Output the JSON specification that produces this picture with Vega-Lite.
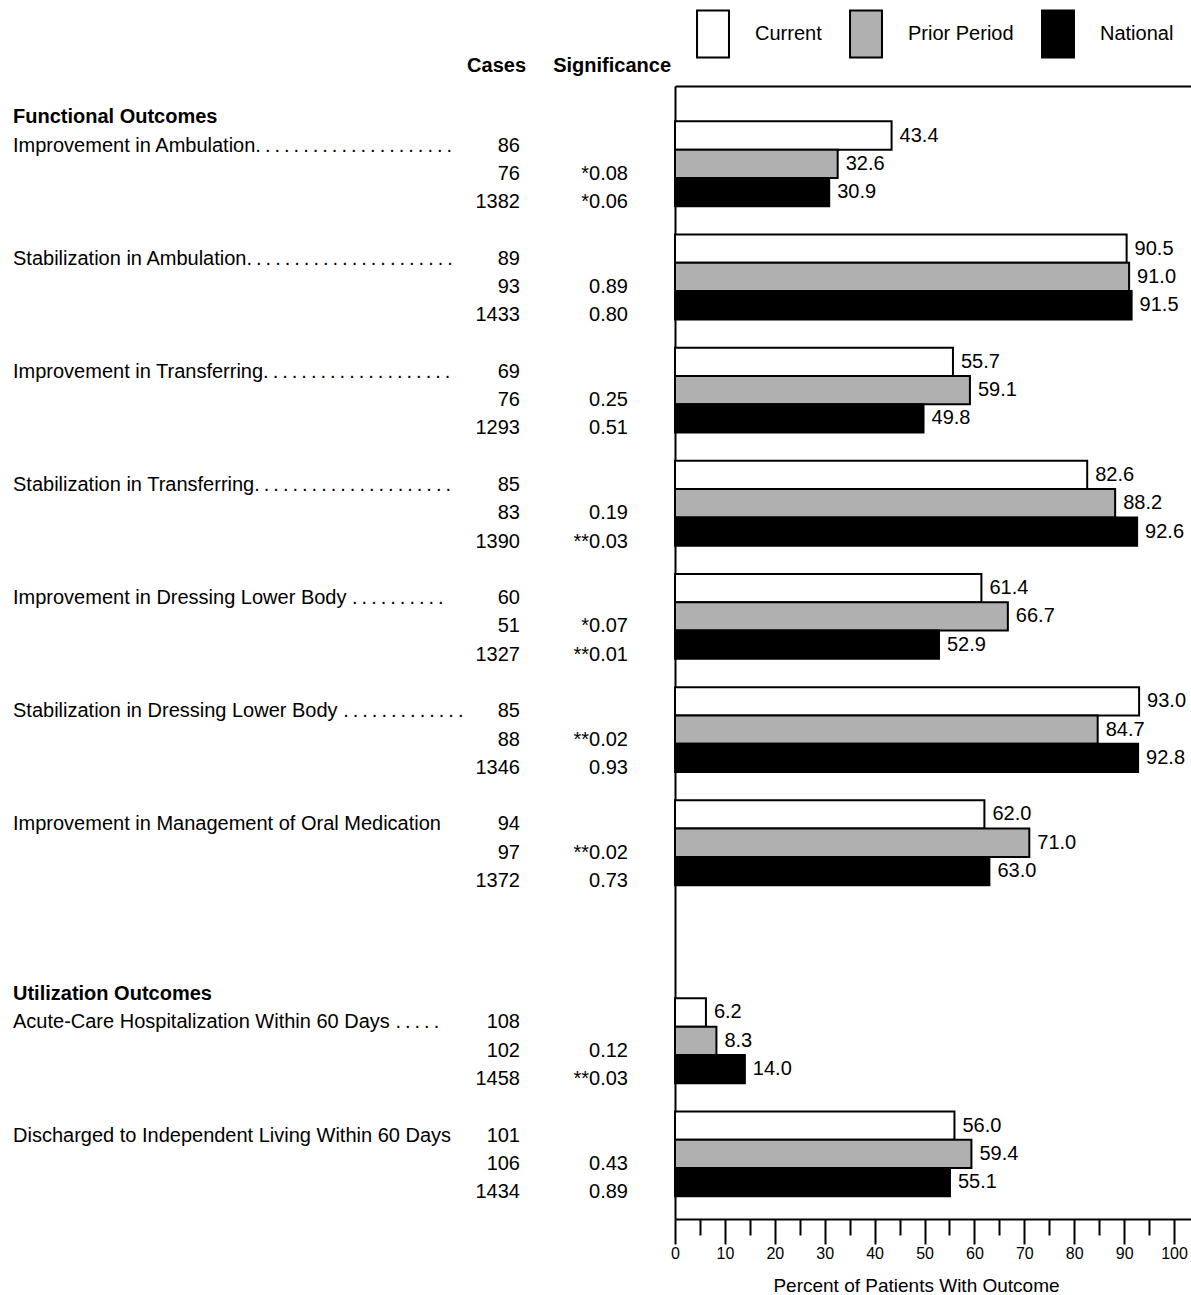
{
  "$schema": "https://vega.github.io/schema/vega-lite/v6.json",
  "padding": {"left": 13, "top": 9, "right": 0, "bottom": 0},
  "background": "white",
  "config": {
    "font": "Liberation Sans",
    "view": {"stroke": null},
    "axis": {"grid": false},
    "text": {"fontSize": 20, "color": "black", "font": "Liberation Sans"},
    "title": {"font": "Liberation Sans", "color": "black"}
  },
  "datasets": {
    "outcomes": [
      {"row": "Improvement in Ambulation | Current", "measure": "Improvement in Ambulation", "series": "Current", "value": 43.4, "cases": "86", "label": "Improvement in Ambulation.\u2009.\u2009.\u2009.\u2009.\u2009.\u2009.\u2009.\u2009.\u2009.\u2009.\u2009.\u2009.\u2009.\u2009.\u2009.\u2009.\u2009.\u2009.\u2009.\u2009."},
      {"row": "Improvement in Ambulation | Prior Period", "measure": "Improvement in Ambulation", "series": "Prior Period", "value": 32.6, "cases": "76", "sig": "*0.08"},
      {"row": "Improvement in Ambulation | National", "measure": "Improvement in Ambulation", "series": "National", "value": 30.9, "cases": "1382", "sig": "*0.06"},
      {"row": "Stabilization in Ambulation | Current", "measure": "Stabilization in Ambulation", "series": "Current", "value": 90.5, "cases": "89", "label": "Stabilization in Ambulation.\u2009.\u2009.\u2009.\u2009.\u2009.\u2009.\u2009.\u2009.\u2009.\u2009.\u2009.\u2009.\u2009.\u2009.\u2009.\u2009.\u2009.\u2009.\u2009.\u2009.\u2009."},
      {"row": "Stabilization in Ambulation | Prior Period", "measure": "Stabilization in Ambulation", "series": "Prior Period", "value": 91.0, "cases": "93", "sig": "0.89"},
      {"row": "Stabilization in Ambulation | National", "measure": "Stabilization in Ambulation", "series": "National", "value": 91.5, "cases": "1433", "sig": "0.80"},
      {"row": "Improvement in Transferring | Current", "measure": "Improvement in Transferring", "series": "Current", "value": 55.7, "cases": "69", "label": "Improvement in Transferring.\u2009.\u2009.\u2009.\u2009.\u2009.\u2009.\u2009.\u2009.\u2009.\u2009.\u2009.\u2009.\u2009.\u2009.\u2009.\u2009.\u2009.\u2009.\u2009."},
      {"row": "Improvement in Transferring | Prior Period", "measure": "Improvement in Transferring", "series": "Prior Period", "value": 59.1, "cases": "76", "sig": "0.25"},
      {"row": "Improvement in Transferring | National", "measure": "Improvement in Transferring", "series": "National", "value": 49.8, "cases": "1293", "sig": "0.51"},
      {"row": "Stabilization in Transferring | Current", "measure": "Stabilization in Transferring", "series": "Current", "value": 82.6, "cases": "85", "label": "Stabilization in Transferring.\u2009.\u2009.\u2009.\u2009.\u2009.\u2009.\u2009.\u2009.\u2009.\u2009.\u2009.\u2009.\u2009.\u2009.\u2009.\u2009.\u2009.\u2009.\u2009.\u2009."},
      {"row": "Stabilization in Transferring | Prior Period", "measure": "Stabilization in Transferring", "series": "Prior Period", "value": 88.2, "cases": "83", "sig": "0.19"},
      {"row": "Stabilization in Transferring | National", "measure": "Stabilization in Transferring", "series": "National", "value": 92.6, "cases": "1390", "sig": "**0.03"},
      {"row": "Improvement in Dressing Lower Body | Current", "measure": "Improvement in Dressing Lower Body", "series": "Current", "value": 61.4, "cases": "60", "label": "Improvement in Dressing Lower Body .\u2009.\u2009.\u2009.\u2009.\u2009.\u2009.\u2009.\u2009.\u2009."},
      {"row": "Improvement in Dressing Lower Body | Prior Period", "measure": "Improvement in Dressing Lower Body", "series": "Prior Period", "value": 66.7, "cases": "51", "sig": "*0.07"},
      {"row": "Improvement in Dressing Lower Body | National", "measure": "Improvement in Dressing Lower Body", "series": "National", "value": 52.9, "cases": "1327", "sig": "**0.01"},
      {"row": "Stabilization in Dressing Lower Body | Current", "measure": "Stabilization in Dressing Lower Body", "series": "Current", "value": 93.0, "cases": "85", "label": "Stabilization in Dressing Lower Body .\u2009.\u2009.\u2009.\u2009.\u2009.\u2009.\u2009.\u2009.\u2009.\u2009.\u2009.\u2009."},
      {"row": "Stabilization in Dressing Lower Body | Prior Period", "measure": "Stabilization in Dressing Lower Body", "series": "Prior Period", "value": 84.7, "cases": "88", "sig": "**0.02"},
      {"row": "Stabilization in Dressing Lower Body | National", "measure": "Stabilization in Dressing Lower Body", "series": "National", "value": 92.8, "cases": "1346", "sig": "0.93"},
      {"row": "Improvement in Management of Oral Medication | Current", "measure": "Improvement in Management of Oral Medication", "series": "Current", "value": 62.0, "cases": "94", "label": "Improvement in Management of Oral Medication"},
      {"row": "Improvement in Management of Oral Medication | Prior Period", "measure": "Improvement in Management of Oral Medication", "series": "Prior Period", "value": 71.0, "cases": "97", "sig": "**0.02"},
      {"row": "Improvement in Management of Oral Medication | National", "measure": "Improvement in Management of Oral Medication", "series": "National", "value": 63.0, "cases": "1372", "sig": "0.73"},
      {"row": "Acute-Care Hospitalization Within 60 Days | Current", "measure": "Acute-Care Hospitalization Within 60 Days", "series": "Current", "value": 6.2, "cases": "108", "label": "Acute-Care Hospitalization Within 60 Days .\u2009.\u2009.\u2009.\u2009."},
      {"row": "Acute-Care Hospitalization Within 60 Days | Prior Period", "measure": "Acute-Care Hospitalization Within 60 Days", "series": "Prior Period", "value": 8.3, "cases": "102", "sig": "0.12"},
      {"row": "Acute-Care Hospitalization Within 60 Days | National", "measure": "Acute-Care Hospitalization Within 60 Days", "series": "National", "value": 14.0, "cases": "1458", "sig": "**0.03"},
      {"row": "Discharged to Independent Living Within 60 Days | Current", "measure": "Discharged to Independent Living Within 60 Days", "series": "Current", "value": 56.0, "cases": "101", "label": "Discharged to Independent Living Within 60 Days"},
      {"row": "Discharged to Independent Living Within 60 Days | Prior Period", "measure": "Discharged to Independent Living Within 60 Days", "series": "Prior Period", "value": 59.4, "cases": "106", "sig": "0.43"},
      {"row": "Discharged to Independent Living Within 60 Days | National", "measure": "Discharged to Independent Living Within 60 Days", "series": "National", "value": 55.1, "cases": "1434", "sig": "0.89"}
    ],
    "headers": [
      {"row": "Functional Outcomes", "text": "Functional Outcomes"},
      {"row": "Utilization Outcomes", "text": "Utilization Outcomes"}
    ]
  },
  "hconcat": [
    {
      "width": 449, "height": 1133,
      "layer": [
        {
          "data": {"name": "outcomes"},
          "transform": [{"filter": "datum.label != null"}],
          "mark": {"type": "text", "align": "left", "baseline": "middle", "dy": 10, "fontSize": 20},
          "encoding": {
            "y": {"field": "row", "type": "nominal", "sort": null, "axis": null, "scale": {"type": "band", "paddingInner": 0, "paddingOuter": 0.525, "align": 0.238, "domain": ["Functional Outcomes", "Improvement in Ambulation | Current", "Improvement in Ambulation | Prior Period", "Improvement in Ambulation | National", "gap 1", "Stabilization in Ambulation | Current", "Stabilization in Ambulation | Prior Period", "Stabilization in Ambulation | National", "gap 2", "Improvement in Transferring | Current", "Improvement in Transferring | Prior Period", "Improvement in Transferring | National", "gap 3", "Stabilization in Transferring | Current", "Stabilization in Transferring | Prior Period", "Stabilization in Transferring | National", "gap 4", "Improvement in Dressing Lower Body | Current", "Improvement in Dressing Lower Body | Prior Period", "Improvement in Dressing Lower Body | National", "gap 5", "Stabilization in Dressing Lower Body | Current", "Stabilization in Dressing Lower Body | Prior Period", "Stabilization in Dressing Lower Body | National", "gap 6", "Improvement in Management of Oral Medication | Current", "Improvement in Management of Oral Medication | Prior Period", "Improvement in Management of Oral Medication | National", "gap 7", "gap 8", "gap 9", "Utilization Outcomes", "Acute-Care Hospitalization Within 60 Days | Current", "Acute-Care Hospitalization Within 60 Days | Prior Period", "Acute-Care Hospitalization Within 60 Days | National", "gap 10", "Discharged to Independent Living Within 60 Days | Current", "Discharged to Independent Living Within 60 Days | Prior Period", "Discharged to Independent Living Within 60 Days | National"]}},
            "x": {"value": 0},
            "text": {"field": "label", "type": "nominal"}
          }
        },
        {
          "data": {"name": "headers"},
          "mark": {"type": "text", "align": "left", "baseline": "middle", "dy": 10, "fontSize": 20, "fontWeight": "bold"},
          "encoding": {
            "y": {"field": "row", "type": "nominal", "sort": null, "axis": null, "scale": {"type": "band", "paddingInner": 0, "paddingOuter": 0.525, "align": 0.238, "domain": ["Functional Outcomes", "Improvement in Ambulation | Current", "Improvement in Ambulation | Prior Period", "Improvement in Ambulation | National", "gap 1", "Stabilization in Ambulation | Current", "Stabilization in Ambulation | Prior Period", "Stabilization in Ambulation | National", "gap 2", "Improvement in Transferring | Current", "Improvement in Transferring | Prior Period", "Improvement in Transferring | National", "gap 3", "Stabilization in Transferring | Current", "Stabilization in Transferring | Prior Period", "Stabilization in Transferring | National", "gap 4", "Improvement in Dressing Lower Body | Current", "Improvement in Dressing Lower Body | Prior Period", "Improvement in Dressing Lower Body | National", "gap 5", "Stabilization in Dressing Lower Body | Current", "Stabilization in Dressing Lower Body | Prior Period", "Stabilization in Dressing Lower Body | National", "gap 6", "Improvement in Management of Oral Medication | Current", "Improvement in Management of Oral Medication | Prior Period", "Improvement in Management of Oral Medication | National", "gap 7", "gap 8", "gap 9", "Utilization Outcomes", "Acute-Care Hospitalization Within 60 Days | Current", "Acute-Care Hospitalization Within 60 Days | Prior Period", "Acute-Care Hospitalization Within 60 Days | National", "gap 10", "Discharged to Independent Living Within 60 Days | Current", "Discharged to Independent Living Within 60 Days | Prior Period", "Discharged to Independent Living Within 60 Days | National"]}},
            "x": {"value": 0},
            "text": {"field": "text", "type": "nominal"}
          }
        }
      ]
    },
    {
      "width": 58, "height": 1133,
      "title": {"text": "Cases", "anchor": "end", "frame": "group", "dx": 6, "fontSize": 20, "fontWeight": "bold", "offset": 10},
      "data": {"name": "outcomes"},
      "mark": {"type": "text", "align": "right", "baseline": "middle", "dy": 10, "fontSize": 20},
      "encoding": {
        "y": {"field": "row", "type": "nominal", "sort": null, "axis": null, "scale": {"type": "band", "paddingInner": 0, "paddingOuter": 0.525, "align": 0.238, "domain": ["Functional Outcomes", "Improvement in Ambulation | Current", "Improvement in Ambulation | Prior Period", "Improvement in Ambulation | National", "gap 1", "Stabilization in Ambulation | Current", "Stabilization in Ambulation | Prior Period", "Stabilization in Ambulation | National", "gap 2", "Improvement in Transferring | Current", "Improvement in Transferring | Prior Period", "Improvement in Transferring | National", "gap 3", "Stabilization in Transferring | Current", "Stabilization in Transferring | Prior Period", "Stabilization in Transferring | National", "gap 4", "Improvement in Dressing Lower Body | Current", "Improvement in Dressing Lower Body | Prior Period", "Improvement in Dressing Lower Body | National", "gap 5", "Stabilization in Dressing Lower Body | Current", "Stabilization in Dressing Lower Body | Prior Period", "Stabilization in Dressing Lower Body | National", "gap 6", "Improvement in Management of Oral Medication | Current", "Improvement in Management of Oral Medication | Prior Period", "Improvement in Management of Oral Medication | National", "gap 7", "gap 8", "gap 9", "Utilization Outcomes", "Acute-Care Hospitalization Within 60 Days | Current", "Acute-Care Hospitalization Within 60 Days | Prior Period", "Acute-Care Hospitalization Within 60 Days | National", "gap 10", "Discharged to Independent Living Within 60 Days | Current", "Discharged to Independent Living Within 60 Days | Prior Period", "Discharged to Independent Living Within 60 Days | National"]}},
        "x": {"value": "width"},
        "text": {"field": "cases", "type": "nominal"}
      }
    },
    {
      "width": 155, "height": 1133,
      "title": {"text": "Significance", "anchor": "end", "frame": "group", "dx": -4, "fontSize": 20, "fontWeight": "bold", "offset": 10},
      "data": {"name": "outcomes"},
      "transform": [{"filter": "datum.sig != null"}],
      "mark": {"type": "text", "align": "right", "baseline": "middle", "dy": 10, "dx": -47, "fontSize": 20},
      "encoding": {
        "y": {"field": "row", "type": "nominal", "sort": null, "axis": null, "scale": {"type": "band", "paddingInner": 0, "paddingOuter": 0.525, "align": 0.238, "domain": ["Functional Outcomes", "Improvement in Ambulation | Current", "Improvement in Ambulation | Prior Period", "Improvement in Ambulation | National", "gap 1", "Stabilization in Ambulation | Current", "Stabilization in Ambulation | Prior Period", "Stabilization in Ambulation | National", "gap 2", "Improvement in Transferring | Current", "Improvement in Transferring | Prior Period", "Improvement in Transferring | National", "gap 3", "Stabilization in Transferring | Current", "Stabilization in Transferring | Prior Period", "Stabilization in Transferring | National", "gap 4", "Improvement in Dressing Lower Body | Current", "Improvement in Dressing Lower Body | Prior Period", "Improvement in Dressing Lower Body | National", "gap 5", "Stabilization in Dressing Lower Body | Current", "Stabilization in Dressing Lower Body | Prior Period", "Stabilization in Dressing Lower Body | National", "gap 6", "Improvement in Management of Oral Medication | Current", "Improvement in Management of Oral Medication | Prior Period", "Improvement in Management of Oral Medication | National", "gap 7", "gap 8", "gap 9", "Utilization Outcomes", "Acute-Care Hospitalization Within 60 Days | Current", "Acute-Care Hospitalization Within 60 Days | Prior Period", "Acute-Care Hospitalization Within 60 Days | National", "gap 10", "Discharged to Independent Living Within 60 Days | Current", "Discharged to Independent Living Within 60 Days | Prior Period", "Discharged to Independent Living Within 60 Days | National"]}},
        "x": {"value": "width"},
        "text": {"field": "sig", "type": "nominal"}
      }
    },
    {
      "width": 516, "height": 1133,
      "data": {"name": "outcomes"},
      "encoding": {
        "y": {"field": "row", "type": "nominal", "sort": null, "scale": {"type": "band", "paddingInner": 0, "paddingOuter": 0.525, "align": 0.238, "domain": ["Functional Outcomes", "Improvement in Ambulation | Current", "Improvement in Ambulation | Prior Period", "Improvement in Ambulation | National", "gap 1", "Stabilization in Ambulation | Current", "Stabilization in Ambulation | Prior Period", "Stabilization in Ambulation | National", "gap 2", "Improvement in Transferring | Current", "Improvement in Transferring | Prior Period", "Improvement in Transferring | National", "gap 3", "Stabilization in Transferring | Current", "Stabilization in Transferring | Prior Period", "Stabilization in Transferring | National", "gap 4", "Improvement in Dressing Lower Body | Current", "Improvement in Dressing Lower Body | Prior Period", "Improvement in Dressing Lower Body | National", "gap 5", "Stabilization in Dressing Lower Body | Current", "Stabilization in Dressing Lower Body | Prior Period", "Stabilization in Dressing Lower Body | National", "gap 6", "Improvement in Management of Oral Medication | Current", "Improvement in Management of Oral Medication | Prior Period", "Improvement in Management of Oral Medication | National", "gap 7", "gap 8", "gap 9", "Utilization Outcomes", "Acute-Care Hospitalization Within 60 Days | Current", "Acute-Care Hospitalization Within 60 Days | Prior Period", "Acute-Care Hospitalization Within 60 Days | National", "gap 10", "Discharged to Independent Living Within 60 Days | Current", "Discharged to Independent Living Within 60 Days | Prior Period", "Discharged to Independent Living Within 60 Days | National"]},
          "axis": {"orient": "left", "labels": false, "ticks": false, "domain": true, "domainColor": "black", "domainWidth": 2, "title": null, "grid": false}}
      },
      "layer": [
        {
          "mark": {"type": "bar", "stroke": "black", "strokeWidth": 2},
          "encoding": {
            "x": {"field": "value", "type": "quantitative", "scale": {"domain": [0, 103.4], "nice": false, "zero": true},
              "axis": {"orient": "bottom", "values": [0, 5, 10, 15, 20, 25, 30, 35, 40, 45, 50, 55, 60, 65, 70, 75, 80, 85, 90, 95, 100],
                "labelExpr": "datum.value % 10 === 0 ? datum.label : ''",
                "domainColor": "black", "domainWidth": 2, "tickColor": "black", "tickWidth": 2,
                "tickSize": {"condition": {"test": "datum.value % 10 === 0", "value": 25}, "value": 16},
                "labelFontSize": 16, "labelColor": "black", "labelPadding": 1, "labelFlush": false, "labelOverlap": false, "labelBaseline": "top",
                "title": "Percent of Patients With Outcome", "titleFontSize": 19, "titleFontWeight": "normal", "titleColor": "black",
                "titleX": 241, "titleY": 66, "titleAlign": "center", "titleBaseline": "middle", "grid": false}},
            "fill": {"field": "series", "type": "nominal", "sort": null,
              "scale": {"domain": ["Current", "Prior Period", "National"], "range": ["white", "#b0b0b0", "black"]},
              "legend": {"orient": "none", "legendX": 13.5, "legendY": -76.5, "direction": "horizontal", "title": null,
                "symbolType": "M-0.68,-1H0.68V1H-0.68Z", "symbolSize": 2209, "symbolStrokeColor": "black", "symbolStrokeWidth": 2, "symbolOpacity": 1,
                "labelFontSize": 20, "labelColor": "black", "labelOffset": 17.5, "columnPadding": 19, "padding": 0}}
          }
        },
        {
          "mark": {"type": "text", "align": "left", "baseline": "middle", "dx": 8, "fontSize": 20},
          "encoding": {
            "x": {"field": "value", "type": "quantitative", "axis": {"orient": "top", "labels": false, "ticks": false, "domain": true, "domainColor": "black", "domainWidth": 2, "title": null, "grid": false}},
            "text": {"field": "value", "type": "quantitative", "format": ".1f"}
          }
        }
      ],
      "resolve": {"axis": {"x": "independent"}}
    }
  ],
  "spacing": 0,
  "bounds": "flush",
  "resolve": {"legend": {"fill": "independent"}}
}
